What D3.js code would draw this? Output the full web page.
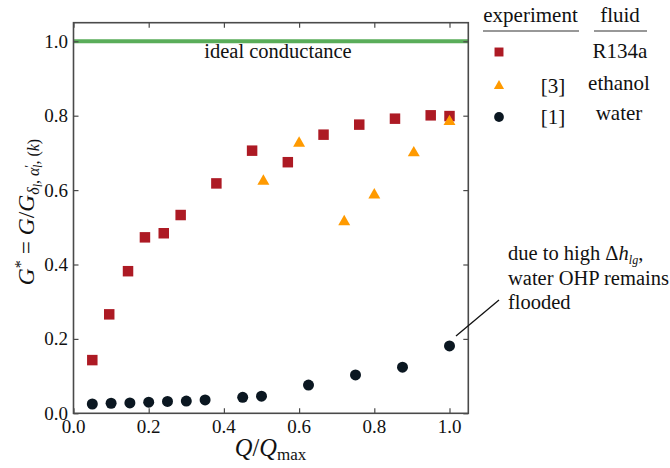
<!DOCTYPE html>
<html><head><meta charset="utf-8">
<script src="https://cdn.jsdelivr.net/npm/d3@7"></script>
</head>
<body><svg id="c" width="670" height="468"></svg>
<script>
// Data
const r134aX = [0.05,0.095,0.145,0.19,0.24,0.285,0.38,0.475,0.57,0.665,0.76,0.855,0.95,1.0];
const r134aY = [0.143,0.266,0.382,0.473,0.484,0.533,0.618,0.706,0.675,0.749,0.776,0.792,0.801,0.799];
const ethanolX = [0.505,0.6,0.72,0.8,0.905,1.0];
const ethanolY = [0.624,0.726,0.515,0.587,0.700,0.784];
const waterX = [0.05,0.1,0.15,0.2,0.25,0.3,0.35,0.45,0.5,0.625,0.75,0.875,1.0];
const waterY = [0.025,0.027,0.028,0.030,0.032,0.033,0.036,0.043,0.046,0.076,0.103,0.124,0.181];
const idealY = 1.0;
const xTicks = [0,0.2,0.4,0.6,0.8,1.0];
const yTicks = [0,0.2,0.4,0.6,0.8,1.0];

document.body.style.margin = "0";
document.getElementById("c").style.display = "block";
const FF = "Liberation Serif";
const svg = d3.select("#c");
const L=73.5, R=468.3, T=22.7, B=413.3;
const x = d3.scaleLinear().domain([0,1.05]).range([L,R]);
const y = d3.scaleLinear().domain([0,1.05]).range([B,T]);
const cRed="#ad1a24", cOrange="#ff9a00", cBlack="#0b1721", cGreen="#5aad5a", cAxis="#4a4a4a";

// ideal line
svg.append("line").attr("x1",x(0)).attr("x2",x(1.05)).attr("y1",y(idealY)).attr("y2",y(idealY))
  .attr("stroke",cGreen).attr("stroke-width",4);
svg.append("text").attr("font-family",FF).attr("x",278).attr("y",58).attr("text-anchor","middle").attr("font-size",20.5)
  .attr("fill","#111").text("ideal conductance");

// axes (ticks drawn with d3 axes, labels added as serif text)
const tl=5;
const ax = (g)=>{ g.selectAll("path.domain").remove(); g.selectAll("line").attr("stroke",cAxis).attr("stroke-width",1.2); g.selectAll("text").remove(); };
svg.append("g").attr("transform",`translate(0,${B})`).call(d3.axisBottom(x).tickValues(xTicks).tickSizeInner(-tl).tickSizeOuter(0)).call(ax);
svg.append("g").attr("transform",`translate(${L},0)`).call(d3.axisLeft(y).tickValues(yTicks).tickSizeInner(-tl).tickSizeOuter(0)).call(ax);
svg.append("g").attr("transform",`translate(0,${T})`).call(d3.axisTop(x).tickValues(xTicks).tickSizeInner(-tl).tickSizeOuter(0)).call(ax);
svg.append("g").attr("transform",`translate(${R},0)`).call(d3.axisRight(y).tickValues(yTicks).tickSizeInner(-tl).tickSizeOuter(0)).call(ax);
const fmt = d3.format(".1f");
svg.append("g").selectAll("text").data(xTicks).join("text").attr("font-family",FF).attr("font-size",19)
  .attr("fill","#111").attr("text-anchor","middle").attr("x",d=>x(d)).attr("y",B+20).text(fmt);
svg.append("g").selectAll("text").data(yTicks).join("text").attr("font-family",FF).attr("font-size",19)
  .attr("fill","#111").attr("text-anchor","end").attr("x",L-5.5).attr("y",d=>y(d)+6.5).text(fmt);
svg.append("rect").attr("x",L).attr("y",T).attr("width",R-L).attr("height",B-T)
  .attr("fill","none").attr("stroke",cAxis).attr("stroke-width",1.6);

// markers
const sq = d3.symbol().type(d3.symbolSquare).size(110);
const tri = d3.symbol().type(d3.symbolTriangle).size(62);
const cir = d3.symbol().type(d3.symbolCircle).size(95);
svg.append("g").selectAll("path").data(r134aX.map((v,i)=>[v,r134aY[i]])).join("path")
  .attr("d",sq).attr("transform",d=>`translate(${x(d[0])},${y(d[1])})`).attr("fill",cRed);
svg.append("g").selectAll("path").data(ethanolX.map((v,i)=>[v,ethanolY[i]])).join("path")
  .attr("d",tri).attr("transform",d=>`translate(${x(d[0])},${y(d[1])})`).attr("fill",cOrange);
svg.append("g").selectAll("path").data(waterX.map((v,i)=>[v,waterY[i]])).join("path")
  .attr("d",cir).attr("transform",d=>`translate(${x(d[0])},${y(d[1])})`).attr("fill",cBlack);

// annotation
svg.append("line").attr("x1",456).attr("y1",336).attr("x2",499).attr("y2",300).attr("stroke","#111").attr("stroke-width",1.3);
const a1 = svg.append("text").attr("font-family",FF).attr("font-size",20.5).attr("fill","#111").attr("x",508).attr("y",260);
a1.append("tspan").text("due to high Δ");
a1.append("tspan").attr("font-style","italic").text("h");
a1.append("tspan").attr("font-style","italic").attr("font-size",12).attr("dy",4).text("lg");
a1.append("tspan").attr("dy",-4).text(",");
svg.append("text").attr("font-family",FF).attr("font-size",20.5).attr("fill","#111").attr("x",508).attr("y",284.5).text("water OHP remains");
svg.append("text").attr("font-family",FF).attr("font-size",20.5).attr("fill","#111").attr("x",508).attr("y",309).text("flooded");

// legend
const lt = (xx,yy,s)=>svg.append("text").attr("font-family",FF).attr("font-size",21).attr("fill","#111").attr("x",xx).attr("y",yy).attr("text-anchor","middle").text(s);
lt(530.5,22,"experiment");
lt(620,22,"fluid");
svg.append("line").attr("x1",483).attr("x2",579).attr("y1",31).attr("y2",31).attr("stroke","#333").attr("stroke-width",1.2);
svg.append("line").attr("x1",594).attr("x2",647).attr("y1",31).attr("y2",31).attr("stroke","#333").attr("stroke-width",1.2);
svg.append("path").attr("d",d3.symbol().type(d3.symbolSquare).size(80)).attr("transform","translate(499,52)").attr("fill",cRed);
svg.append("path").attr("d",d3.symbol().type(d3.symbolTriangle).size(45)).attr("transform","translate(499,86)").attr("fill",cOrange);
svg.append("path").attr("d",d3.symbol().type(d3.symbolCircle).size(75)).attr("transform","translate(499,117)").attr("fill",cBlack);
lt(620,58,"R134a");
lt(553,93,"[3]");
lt(619,90,"ethanol");
lt(553,124,"[1]");
lt(619,120,"water");

// x label
const xl = svg.append("text").attr("font-family",FF).attr("x",270.5).attr("y",456).attr("text-anchor","middle").attr("font-size",24.5).attr("fill","#111");
xl.append("tspan").attr("font-style","italic").text("Q");
xl.append("tspan").text("/");
xl.append("tspan").attr("font-style","italic").text("Q");
xl.append("tspan").attr("font-size",17).attr("dy",4).text("max");

// y label
const yl = svg.append("text").attr("font-family",FF).attr("transform","translate(34,212) rotate(-90)").attr("text-anchor","middle").attr("font-size",23.5).attr("fill","#111");
yl.append("tspan").attr("font-style","italic").text("G");
yl.append("tspan").attr("font-size",16).attr("dy",-8).text("*");
yl.append("tspan").attr("dy",8).text(" = ");
yl.append("tspan").attr("font-style","italic").text("G");
yl.append("tspan").text("/");
yl.append("tspan").attr("font-style","italic").text("G");
yl.append("tspan").attr("font-style","italic").attr("font-size",16).attr("dy",5).text("δ");
yl.append("tspan").attr("font-style","italic").attr("font-size",12).attr("dy",3).text("l");
yl.append("tspan").attr("font-size",16).attr("dy",-3).text(", ");
yl.append("tspan").attr("font-style","italic").attr("font-size",16).text("α");
yl.append("tspan").attr("font-size",12).attr("dy",-6).text("′");
yl.append("tspan").attr("font-style","italic").attr("font-size",12).attr("dy",9).attr("dx",-3).text("l");
yl.append("tspan").attr("font-size",16).attr("dy",-3).text(", (");
yl.append("tspan").attr("font-style","italic").attr("font-size",16).text("k");
yl.append("tspan").attr("font-size",16).text(")");
</script></body></html>
